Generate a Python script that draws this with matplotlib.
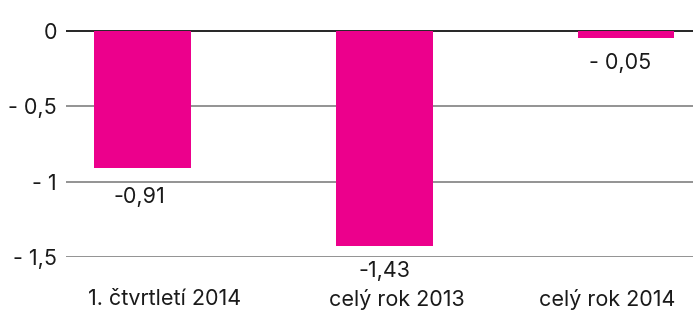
import matplotlib.pyplot as plt
from matplotlib.transforms import ScaledTranslation

categories = ["1. čtvrtletí 2014", "celý rok 2013", "celý rok 2014"]
values = [-0.91, -1.43, -0.05]
labels = ["-0,91", "-1,43", "- 0,05"]
yticks = [0, -0.5, -1, -1.5]
ytick_labels = ["0", "- 0,5", "- 1", "- 1,5"]

plt.rcParams['font.family'] = ['Inter', 'DejaVu Sans']
fs = 15.5

fig = plt.figure(figsize=(6.93, 3.10), dpi=100)
ax = fig.add_axes([66 / 693, 1 - 257 / 310, 627 / 693, 247 / 310])

x = range(len(categories))
bars = ax.bar(x, values, width=0.4, color='#EC008C', zorder=3)

# value labels below the bars (first one pushed a bit lower, off the gridline)
label_dy = [-21, -18, -18]
label_dx = [-2, 0, -4]
for b, lab, dx, dy in zip(bars, labels, label_dx, label_dy):
    ax.annotate(lab, (b.get_x() + b.get_width() / 2, b.get_height()),
                xytext=(dx, dy), textcoords='offset points',
                ha='center', va='center', fontsize=fs, color='#1a1a1a')

ax.set_xlim(-0.316, 2.277)
ax.set_ylim(-1.5, 0.136)
ax.set_yticks(yticks)
ax.set_yticklabels(ytick_labels, fontsize=fs, color='#1a1a1a')
ax.set_xticks(list(x))
ax.set_xticklabels(categories, fontsize=fs, color='#1a1a1a')
ax.tick_params(axis='y', length=0, pad=6.5)
ax.tick_params(axis='x', length=0, pad=23)

# category labels sit a little off-centre in the original
shifts = [22, 13, -19]
for t, s in zip(ax.get_xticklabels(), shifts):
    t.set_transform(t.get_transform() + ScaledTranslation(s / 100, 0, fig.dpi_scale_trans))

for v in yticks:
    ax.axhline(v, color='black' if v == 0 else '#808080', lw=1.2, zorder=2)

for s in ax.spines.values():
    s.set_visible(False)

fig.savefig('out.png', dpi=100)
